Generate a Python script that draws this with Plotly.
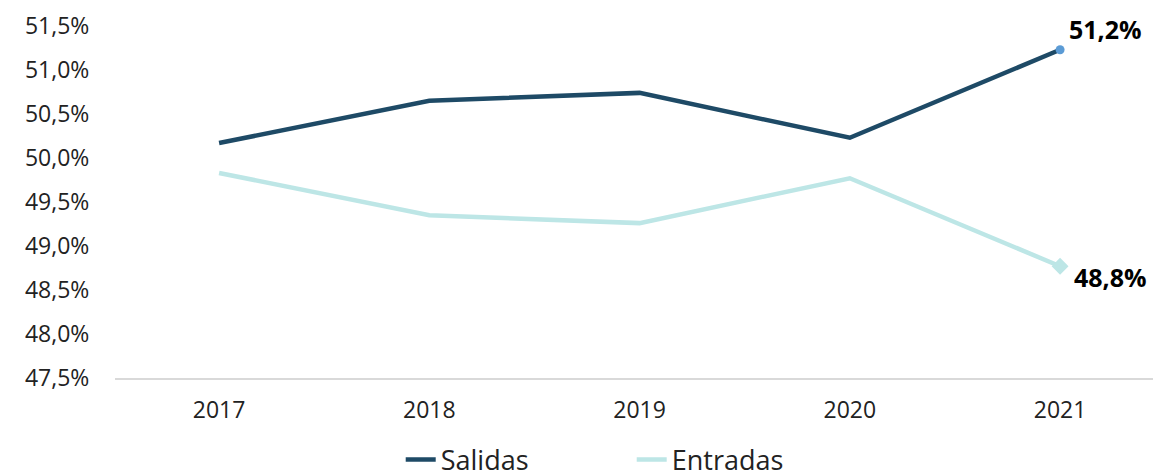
import plotly.graph_objects as go

years = [2017, 2018, 2019, 2020, 2021]
salidas = [50.17, 50.65, 50.74, 50.23, 51.23]
entradas = [49.83, 49.35, 49.26, 49.77, 48.77]
tick_vals = [47.5, 48.0, 48.5, 49.0, 49.5, 50.0, 50.5, 51.0, 51.5]
tick_text = [f"{v:.1f}%".replace(".", ",") for v in tick_vals]

FONT = "Open Sans"
dark = "#1E4A66"
light = "#BDE6E6"

fig = go.Figure()
fig.add_trace(go.Scatter(
    x=years, y=salidas, name="Salidas", mode="lines",
    line=dict(color=dark, width=4.5),
))
fig.add_trace(go.Scatter(
    x=years, y=entradas, name="Entradas", mode="lines",
    line=dict(color=light, width=4.5),
))
fig.add_trace(go.Scatter(
    x=[years[-1]], y=[salidas[-1]], mode="markers", showlegend=False,
    marker=dict(size=9, color="#5B9BD5", symbol="circle"),
))
fig.add_trace(go.Scatter(
    x=[years[-1]], y=[entradas[-1]], mode="markers", showlegend=False,
    marker=dict(size=13, color=light, symbol="diamond"),
))

fig.add_annotation(x=years[-1], y=salidas[-1], text="<b>" + f"{salidas[-1]:.1f}%".replace(".", ",") + "</b>",
                   showarrow=False, xanchor="left", yanchor="bottom", xshift=7, yshift=2,
                   font=dict(family=FONT, size=25, color="black"))
fig.add_annotation(x=years[-1], y=entradas[-1], text="<b>" + f"{entradas[-1]:.1f}%".replace(".", ",") + "</b>",
                   showarrow=False, xanchor="left", yanchor="top", xshift=12, yshift=8,
                   font=dict(family=FONT, size=25, color="black"))

# page body has an 8px default margin; figure sized so the whole page is 1161x472
fig.update_layout(
    width=1153, height=464,
    margin=dict(l=107, r=0, t=18, b=94),
    paper_bgcolor="white", plot_bgcolor="white",
    font=dict(family=FONT, size=23, color="#222222"),
    showlegend=True,
    legend=dict(orientation="h", xref="container", yref="container",
                x=0.3406, xanchor="left", y=0.026, yanchor="middle",
                font=dict(family=FONT, size=27, color="#222222"),
                entrywidth=186, entrywidthmode="pixels"),
    xaxis=dict(type="linear", range=[years[0] - 0.495, years[-1] + 0.48], tickvals=years,
               ticktext=[str(y) for y in years], automargin=False,
               showgrid=False, zeroline=False, showline=True, linecolor="#D9D9D9", linewidth=2,
               ticks="outside", ticklen=10, tickcolor="rgba(0,0,0,0)", tickfont=dict(size=23)),
    yaxis=dict(range=[47.5, 51.5], tickvals=tick_vals, ticktext=tick_text, automargin=False,
               showgrid=False, zeroline=False, showline=False,
               ticks="outside", ticklen=20, tickcolor="rgba(0,0,0,0)", tickfont=dict(size=23)),
)

fig.write_html("out.html")
